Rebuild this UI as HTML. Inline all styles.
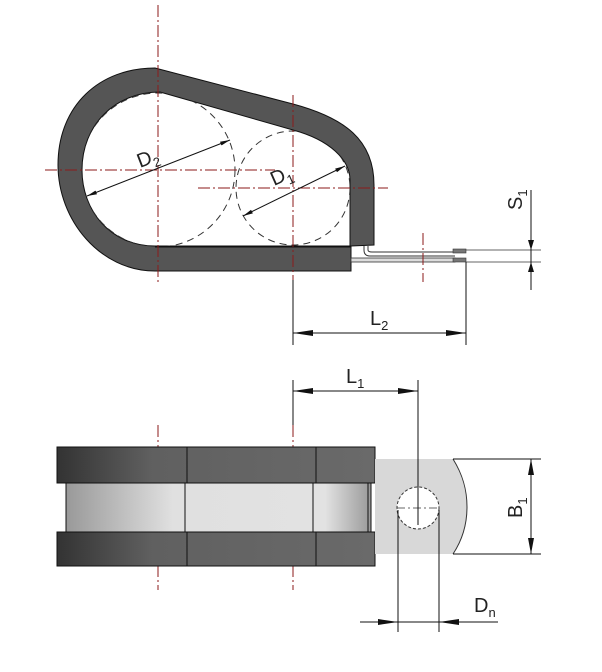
<!DOCTYPE html>
<html><head><meta charset="utf-8"><style>body{margin:0;background:#fff}svg{display:block}text{font-family:"Liberation Sans",sans-serif;fill:#222}</style></head><body>
<svg width="602" height="672" viewBox="0 0 602 672" xmlns="http://www.w3.org/2000/svg">
<defs>
<marker id="a" viewBox="0 0 10 6" refX="10" refY="3" markerWidth="10" markerHeight="6" orient="auto-start-reverse" markerUnits="userSpaceOnUse"><path d="M0,1 L10,3 L0,5 Z" fill="#111"/></marker>
<clipPath id="ci"><path d="M160,92 L293,130 C330,140 350,160 350,180 L350,246 L155,246 C110,246 82,210 82,170 C82,125 115,92 160,92 Z"/></clipPath>
<linearGradient id="dg" x1="0" x2="1"><stop offset="0" stop-color="#333"/><stop offset="0.3" stop-color="#606060"/><stop offset="1" stop-color="#6a6a6a"/></linearGradient>
<linearGradient id="lg" x1="0" x2="1"><stop offset="0" stop-color="#999"/><stop offset="0.35" stop-color="#e0e0e0"/><stop offset="0.85" stop-color="#e2e2e2"/><stop offset="1" stop-color="#999"/></linearGradient>
</defs>
<path d="M155,68 L293,104 C345,118 374,140 374,185 L374,245 L351,246 L351,271 L155,271 C100,271 58,220 58,165 C58,105 100,68 155,68 Z" fill="#555" stroke="#111"/>
<path d="M160,92 L293,130 C330,140 350,160 350,180 L350,246 L155,246 C110,246 82,210 82,170 C82,125 115,92 160,92 Z" fill="#fff" stroke="#111"/>
<line x1="155" y1="247" x2="351" y2="247" stroke="#111"/>
<g clip-path="url(#ci)" fill="none" stroke="#333" stroke-dasharray="7,5">
<circle cx="158" cy="170" r="77"/><circle cx="293" cy="188" r="57"/></g>
<path d="M364,246 L364,250 Q364,256 370,256 L455,256" fill="none" stroke="#333"/>
<path d="M368,246 L368,250 Q368,252 372,252 L455,252" fill="none" stroke="#333"/>
<rect x="351" y="258" width="104" height="4" fill="#ddd" stroke="#333" stroke-width="0.8"/>
<rect x="453" y="249" width="13" height="4" fill="#777" stroke="#333" stroke-width="0.6"/>
<rect x="453" y="258" width="13" height="4" fill="#777" stroke="#333" stroke-width="0.6"/>
<line x1="466" y1="250" x2="541" y2="250" stroke="#333" stroke-width="0.8"/>
<line x1="466" y1="262" x2="541" y2="262" stroke="#333" stroke-width="0.8"/>
<g stroke="#8b1a1a" stroke-width="1" stroke-dasharray="12,3,2,3" fill="none">
<line x1="158" y1="5" x2="158" y2="285"/><line x1="293" y1="95" x2="293" y2="280"/>
<line x1="45" y1="170" x2="275" y2="170"/><line x1="198" y1="188" x2="388" y2="188"/>
<line x1="423" y1="233" x2="423" y2="282"/>
<line x1="158" y1="425" x2="158" y2="590"/><line x1="293" y1="425" x2="293" y2="590"/>
</g>
<line x1="87" y1="196" x2="230" y2="140" stroke="#111" marker-start="url(#a)" marker-end="url(#a)"/>
<line x1="243" y1="216" x2="345" y2="166" stroke="#111" marker-start="url(#a)" marker-end="url(#a)"/>
<text transform="translate(140,168) rotate(-21)" font-size="20">D<tspan font-size="13" dy="5">2</tspan></text>
<text transform="translate(274,186) rotate(-24)" font-size="20">D<tspan font-size="13" dy="5">1</tspan></text>
<line x1="531" y1="190" x2="531" y2="290" stroke="#111"/>
<path d="M528,240 L531,250 L534,240 Z M528,272 L531,262 L534,272 Z" fill="#111"/>
<text transform="translate(522,210) rotate(-90)" font-size="20">S<tspan font-size="13" dy="5">1</tspan></text>
<line x1="293" y1="280" x2="293" y2="345" stroke="#111"/>
<line x1="466" y1="262" x2="466" y2="345" stroke="#111"/>
<line x1="293" y1="333" x2="466" y2="333" stroke="#111"/>
<path d="M293,333 L313,330 L313,336 Z M466,333 L446,330 L446,336 Z" fill="#111"/>
<text x="370" y="325" font-size="20">L<tspan font-size="13" dy="5">2</tspan></text>
<rect x="57" y="447" width="318" height="36" fill="url(#dg)" stroke="#111"/>
<rect x="57" y="532" width="318" height="34" fill="url(#dg)" stroke="#111"/>
<rect x="66" y="483" width="305" height="49" fill="url(#lg)" stroke="#111"/>
<line x1="368" y1="483" x2="368" y2="532" stroke="#111"/>
<g stroke="#111"><line x1="187" y1="447" x2="187" y2="483"/><line x1="316" y1="447" x2="316" y2="483"/>
<line x1="187" y1="532" x2="187" y2="566"/><line x1="316" y1="532" x2="316" y2="566"/>
<line x1="185" y1="483" x2="185" y2="532"/><line x1="313" y1="483" x2="313" y2="532"/></g>
<path d="M375,459 L453,459 C463,475 467,490 467,507 C467,524 463,539 453,554 L375,554 Z" fill="#d8d8d8"/>
<path d="M453,459 C463,475 467,490 467,507 C467,524 463,539 453,554" fill="none" stroke="#333"/>
<circle cx="418" cy="508" r="21" fill="#fff" stroke="#333" stroke-dasharray="3,2"/>
<line x1="397" y1="508" x2="440" y2="508" stroke="#333" stroke-width="0.8" stroke-dasharray="8,3,2,3"/>
<line x1="293" y1="380" x2="293" y2="425" stroke="#111"/>
<line x1="418" y1="380" x2="418" y2="525" stroke="#111"/>
<line x1="293" y1="391" x2="418" y2="391" stroke="#111"/>
<path d="M293,391 L313,388 L313,394 Z M418,391 L398,388 L398,394 Z" fill="#111"/>
<text x="346" y="383" font-size="20">L<tspan font-size="13" dy="5">1</tspan></text>
<line x1="453" y1="459" x2="541" y2="459" stroke="#111"/>
<line x1="453" y1="554" x2="541" y2="554" stroke="#111"/>
<line x1="531" y1="459" x2="531" y2="554" stroke="#111"/>
<path d="M531,459 L528,475 L534,475 Z M531,554 L528,538 L534,538 Z" fill="#111"/>
<text transform="translate(522,518) rotate(-90)" font-size="20">B<tspan font-size="13" dy="5">1</tspan></text>
<line x1="398" y1="510" x2="398" y2="632" stroke="#111"/>
<line x1="439" y1="510" x2="439" y2="632" stroke="#111"/>
<line x1="360" y1="622" x2="498" y2="622" stroke="#111"/>
<path d="M398,622 L378,619 L378,625 Z M439,622 L459,619 L459,625 Z" fill="#111"/>
<text x="474" y="612" font-size="20">D<tspan font-size="13" dy="5">n</tspan></text>
</svg>
</body></html>
